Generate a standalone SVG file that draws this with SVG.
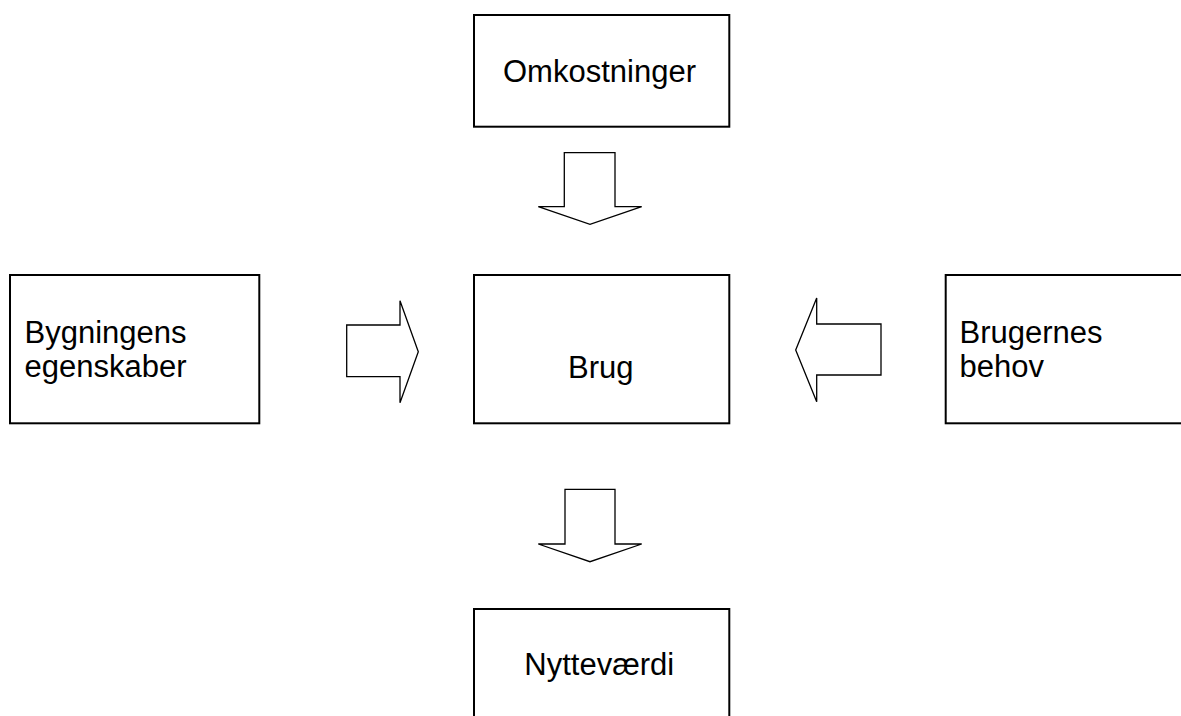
<svg xmlns="http://www.w3.org/2000/svg" width="1181" height="716" viewBox="0 0 1181 716">
  <style>
    .box { fill: #ffffff; stroke: #000000; stroke-width: 2; }
    .arrow { fill: #ffffff; stroke: #000000; stroke-width: 1.3; stroke-linejoin: miter; }
    .label { font-family: "Liberation Sans", Arial, sans-serif; font-size: 31px; fill: #000000; }
  </style>
  <rect x="0" y="0" width="1181" height="716" fill="#ffffff"/>
  <g id="omkostninger">
    <rect class="box" x="474" y="15" width="255.3" height="111.7"/>
    <text class="label" x="503" y="81.7">Omkostninger</text>
  </g>
  <g id="bygningens-egenskaber">
    <rect class="box" x="10" y="275" width="249.3" height="148.3"/>
    <text class="label" x="24.5" y="343.3">Bygningens</text>
    <text class="label" x="24.5" y="376.5">egenskaber</text>
  </g>
  <g id="brug">
    <rect class="box" x="474" y="275" width="255.3" height="148.3"/>
    <text class="label" x="568" y="378.3">Brug</text>
  </g>
  <g id="brugernes-behov">
    <rect class="box" x="945.7" y="275" width="260" height="148.3"/>
    <text class="label" x="959.5" y="343.3">Brugernes</text>
    <text class="label" x="959.5" y="376.7">behov</text>
  </g>
  <g id="nyttevaerdi">
    <rect class="box" x="474" y="609" width="255.3" height="130"/>
    <text class="label" x="524.3" y="675">Nytteværdi</text>
  </g>
  <g id="connectors">
    <polygon class="arrow" points="564.3,152.7 615,152.7 615,206.7 641.7,206.7 590,224.3 538.3,206.7 564.3,206.7"/>
    <polygon class="arrow" points="565,489.3 615,489.3 615,544 641.7,544 590,561.7 538.3,544 565,544"/>
    <polygon class="arrow" points="346.7,325 400,325 400,300.7 418.3,351.7 400,402.7 400,376.7 346.7,376.7"/>
    <polygon class="arrow" points="881,324 816.7,324 816.7,298 795.7,350 816.7,401.7 816.7,375 881,375"/>
  </g>
</svg>
